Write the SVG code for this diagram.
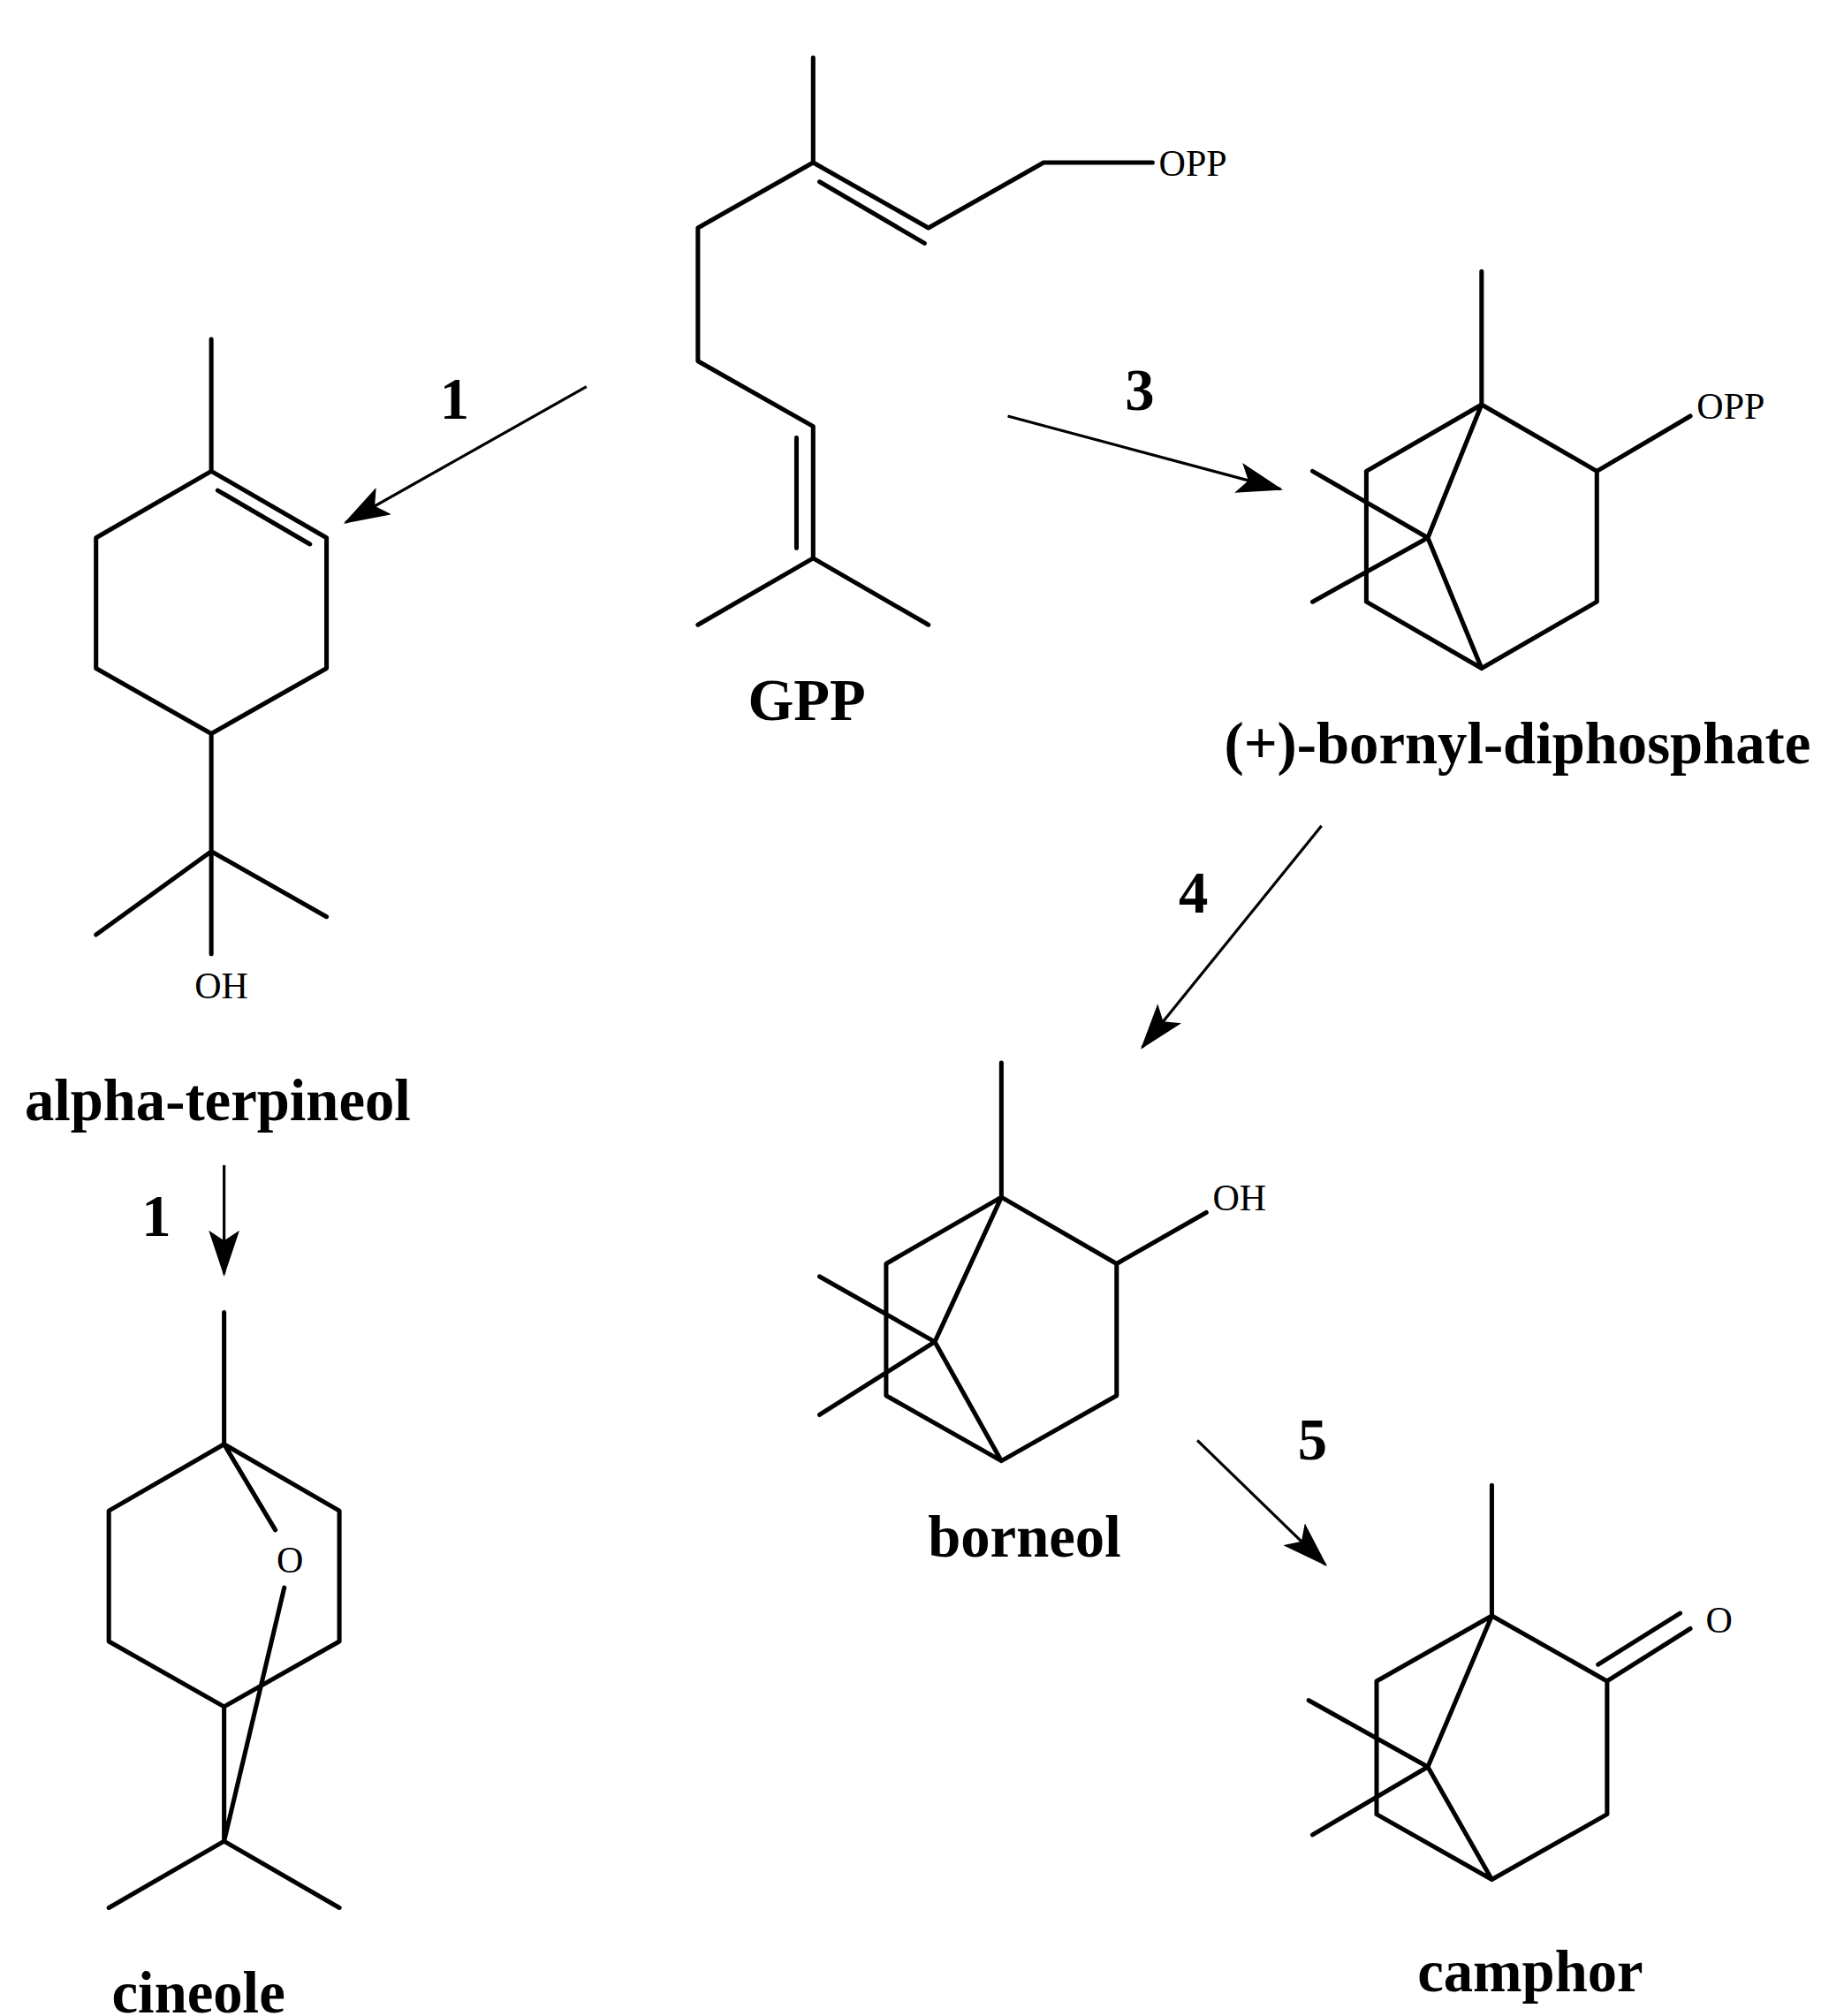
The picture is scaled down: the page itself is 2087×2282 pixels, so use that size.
<svg xmlns="http://www.w3.org/2000/svg" width="2087" height="2282" viewBox="0 0 2087 2282">
<defs>
<style>
.b{stroke:#000;stroke-width:3.5;fill:none;stroke-linecap:round;stroke-linejoin:round}
.a{stroke:#000;stroke-width:2.2;fill:none}
.lab{font-family:"Liberation Serif",serif;font-weight:bold;font-size:46px;text-anchor:middle}
.at{font-family:"Liberation Serif",serif;font-size:29px}
</style>
<marker id="ah2" viewBox="0 0 36 24" refX="34" refY="12" markerWidth="36" markerHeight="24" markerUnits="userSpaceOnUse" orient="auto"><path d="M0,0 L36,12 L0,24 L8,12 Z" fill="#000"/></marker>
</defs>
<rect width="2087" height="2282" fill="#fff"/>
<g transform="scale(1.4493)">
<g id="gpp">
<path class="b" d="M635,45 L635,127 L725,178 L815,127 L900,127 M640,142 L722,190 M635,127 L545,178 L545,282 L635,333 L635,436 L545,488 M635,436 L725,488 M622,342 L622,428"/>
<text class="at" x="905" y="137">OPP</text>
<text class="lab" x="630" y="562">GPP</text>
</g>
<g id="terpineol">
<path class="b" d="M165,368 L255,420 L255,522 L165,573 L75,522 L75,420 Z M165,265 L165,368 M170,383 L242,425 M165,573 L165,665 L75,730 M165,665 L255,716 M165,665 L165,745"/>
<text class="at" x="152" y="780">OH</text>
<text class="lab" x="170" y="875">alpha-terpineol</text>
</g>
<g id="cineole">
<path class="b" d="M175,1128 L265,1180 L265,1282 L175,1333 L85,1282 L85,1180 Z M175,1025 L175,1128 M175,1128 L215,1195 M222,1240 L175,1438 M175,1333 L175,1438 L85,1490 M175,1438 L265,1490"/>
<text class="at" x="216" y="1228">O</text>
<text class="lab" x="155" y="1572">cineole</text>
</g>
<g id="bornyl">
<path class="b" d="M1157,316 L1247,368 L1247,470 L1157,522 L1067,470 L1067,368 Z M1157,212 L1157,316 M1157,316 L1115,420 L1157,522 M1115,420 L1025,368 M1115,420 L1025,470 M1247,368 L1320,325"/>
<text class="at" x="1325" y="327">OPP</text>
<text class="lab" x="1185" y="596">(+)-bornyl-diphosphate</text>
</g>
<g id="borneol">
<path class="b" d="M782,935 L872,987 L872,1090 L782,1141 L692,1090 L692,987 Z M782,830 L782,935 M782,935 L730,1048 L782,1141 M730,1048 L640,997 M730,1048 L640,1105 M872,987 L942,947"/>
<text class="at" x="947" y="945">OH</text>
<text class="lab" x="800" y="1216">borneol</text>
</g>
<g id="camphor">
<path class="b" d="M1165,1262 L1255,1313 L1255,1417 L1165,1468 L1075,1417 L1075,1313 Z M1165,1160 L1165,1262 M1165,1262 L1115,1380 L1165,1468 M1115,1380 L1022,1328 M1115,1380 L1025,1433 M1255,1313 L1320,1272 M1248,1300 L1312,1260"/>
<text class="at" x="1332" y="1275">O</text>
<text class="lab" x="1195" y="1555">camphor</text>
</g>
<g id="connectors">
<path class="a" d="M458,302 L270,408" marker-end="url(#ah2)"/>
<path class="a" d="M175,910 L175,995" marker-end="url(#ah2)"/>
<path class="a" d="M787,325 L1000,382" marker-end="url(#ah2)"/>
<path class="a" d="M1032,645 L892,818" marker-end="url(#ah2)"/>
<path class="a" d="M935,1125 L1035,1222" marker-end="url(#ah2)"/>
<text class="lab" x="355" y="327">1</text>
<text class="lab" x="122" y="965">1</text>
<text class="lab" x="890" y="320">3</text>
<text class="lab" x="932" y="713">4</text>
<text class="lab" x="1025" y="1140">5</text>
</g>
</g>
</svg>
